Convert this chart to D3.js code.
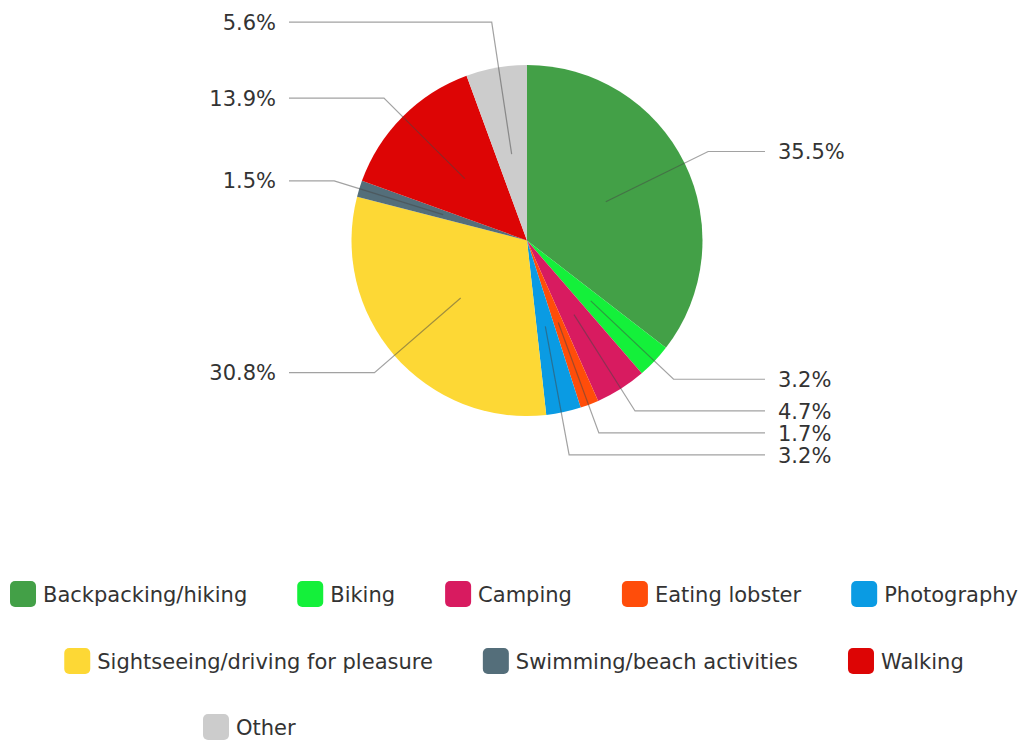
<!DOCTYPE html>
<html>
<head>
<meta charset="utf-8">
<script src="https://cdn.jsdelivr.net/npm/d3@7/dist/d3.min.js"></script>
<style>
  html, body { margin: 0; padding: 0; background: #fff; }
  svg { display: block; }
  text { font-family: "DejaVu Sans", sans-serif; fill: #333333; }
</style>
</head>
<body>
<svg id="chart" width="1021" height="740"></svg>
<script>
// Activities and their shares (%), clockwise from 12 o'clock
const categories = [
  "Backpacking/hiking", "Biking", "Camping", "Eating lobster", "Photography",
  "Sightseeing/driving for pleasure", "Swimming/beach activities", "Walking", "Other"
];
const shares = [35.5, 3.2, 4.7, 1.7, 3.2, 30.8, 1.5, 13.9, 5.6];
const colors = [
  "#43a047", "#14f03a", "#d81b60", "#ff4d0a", "#0a9be3",
  "#fdd835", "#546e7a", "#dd0505", "#cccccc"
];
// Legend rows (indices into categories)
const legendRows = [[0, 1, 2, 3, 4], [5, 6, 7], [8]];

const W = 1021, H = 740;
const cx = 527, cy = 240.5, R = 175.5;
const fontSize = 21;

const svg = d3.select("#chart");

const pieGen = d3.pie().sort(null).value(d => d);
const arcs = pieGen(shares);
const arcGen = d3.arc().innerRadius(0).outerRadius(R);

const g = svg.append("g").attr("transform", `translate(${cx},${cy})`);
g.selectAll("path.slice")
  .data(arcs)
  .join("path")
  .attr("class", "slice")
  .attr("d", arcGen)
  .attr("fill", (d, i) => colors[i]);

// Label layout: leader starts inside slice, bends at 1.15R, runs horizontally to label
const labels = arcs.map((a, i) => {
  const mid = (a.startAngle + a.endAngle) / 2;
  const s = Math.sin(mid), c = -Math.cos(mid);
  return {
    i,
    side: s >= 0 ? "right" : "left",
    inner: [cx + 0.5 * R * s, cy + 0.5 * R * c],
    ex: cx + 1.15 * R * s,
    y: cy + 1.15 * R * c
  };
});

// Resolve overlaps: labels below the centre are pushed down,
// labels above it are spread upward with a roomier spacing
const gapBelow = 22, gapAbove = 76;
["left", "right"].forEach(side => {
  const below = labels.filter(l => l.side === side && l.y >= cy).sort((a, b) => a.y - b.y);
  for (let k = 1; k < below.length; k++) {
    if (below[k].y - below[k - 1].y < gapBelow) below[k].y = below[k - 1].y + gapBelow;
  }
  const above = labels.filter(l => l.side === side && l.y < cy).sort((a, b) => b.y - a.y);
  for (let k = 1; k < above.length; k++) {
    if (above[k - 1].y - above[k].y < gapAbove) above[k].y = above[k - 1].y - gapAbove;
  }
});

const lineReach = 238, textPad = 13;
const lineGen = d3.line();
const lg = svg.append("g");
labels.forEach(l => {
  const endX = l.side === "right" ? cx + lineReach : cx - lineReach;
  lg.append("path")
    .attr("d", lineGen([l.inner, [l.ex, l.y], [endX, l.y]]))
    .attr("fill", "none")
    .attr("stroke", "rgba(70,70,70,0.5)")
    .attr("stroke-width", 1.2);
  lg.append("text")
    .attr("x", l.side === "right" ? endX + textPad : endX - textPad)
    .attr("y", l.y)
    .attr("dy", "0.36em")
    .attr("text-anchor", l.side === "right" ? "start" : "end")
    .attr("font-size", fontSize)
    .text(d3.format(".1f")(shares[l.i]) + "%");
});

// Legend
const sw = 26, swGap = 7, itemGap = 50;
const rowY = [594, 661, 727];
const rowCenter = 514;
const lastRowX = 203;
const leg = svg.append("g");
legendRows.forEach((row, r) => {
  const items = row.map(i => {
    const t = leg.append("text")
      .attr("font-size", fontSize)
      .attr("dy", "0.36em")
      .text(categories[i]);
    return { i, t, w: t.node().getComputedTextLength() };
  });
  const total = d3.sum(items, d => sw + swGap + d.w) + itemGap * (items.length - 1);
  let x = r === legendRows.length - 1 ? lastRowX : rowCenter - total / 2;
  items.forEach(d => {
    leg.append("rect")
      .attr("x", x).attr("y", rowY[r] - sw / 2)
      .attr("width", sw).attr("height", sw)
      .attr("rx", 5)
      .attr("fill", colors[d.i]);
    d.t.attr("x", x + sw + swGap).attr("y", rowY[r]);
    x += sw + swGap + d.w + itemGap;
  });
});
</script>
</body>
</html>
